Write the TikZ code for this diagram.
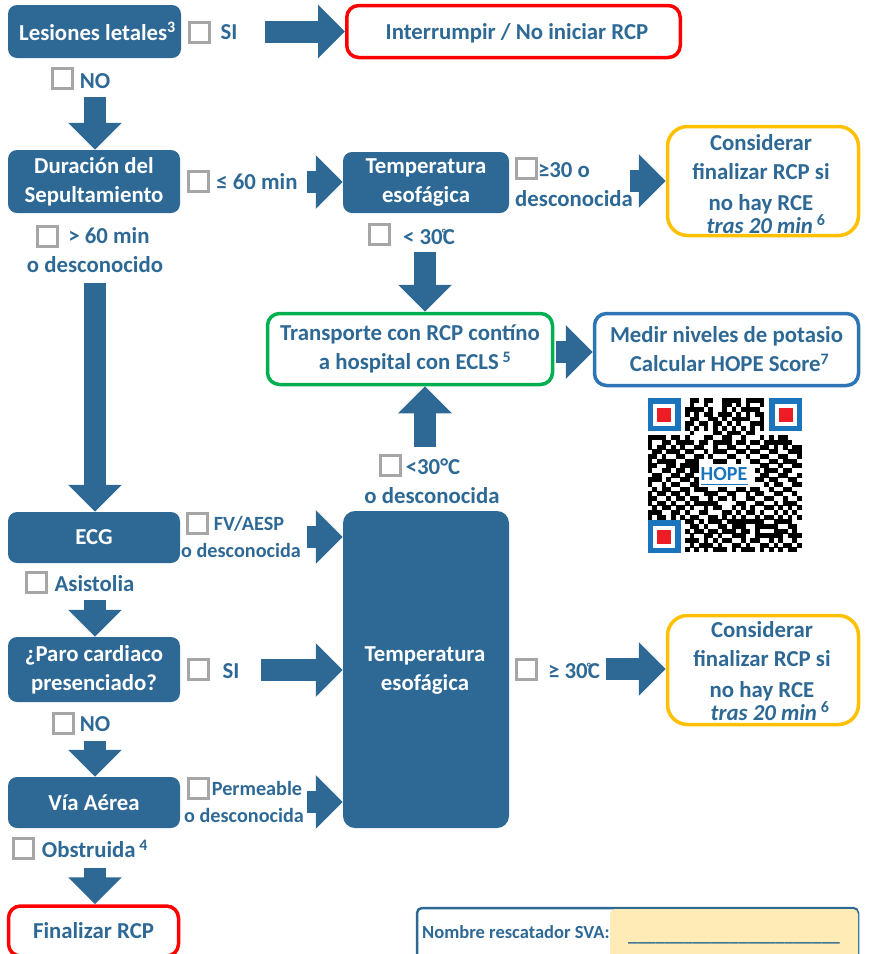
\documentclass[tikz,border=0pt]{standalone}
\usepackage{fontspec}
\setmainfont{Carlito}
\usetikzlibrary{arrows.meta}
\definecolor{flow_blue}{HTML}{2E6995}
\definecolor{check_gray}{HTML}{A6A6A6}
\definecolor{stop_red}{HTML}{FF0000}
\definecolor{go_green}{HTML}{00B050}
\definecolor{warn_yellow}{HTML}{FFC000}
\definecolor{info_blue}{HTML}{2E75B6}
\definecolor{qr_blue}{HTML}{1B75BC}
\definecolor{qr_red}{HTML}{EE1C25}
\definecolor{name_cream}{HTML}{FFEBB5}
\newcommand{\degc}{\rlap{\kern-1pt\raisebox{7pt}{\fontsize{12}{12}\selectfont °}}C}

\begin{document}
\begin{tikzpicture}[x=1pt,y=-1pt,
base_text/.style={font=\bfseries\fontsize{22.8}{29}\selectfont, align=center, inner sep=0pt},
solid_box/.style={base_text, rectangle, rounded corners=9pt, fill=flow_blue, text=white},
outline_box/.style={base_text, rectangle, rounded corners=12pt, draw=#1, fill=white, line width=3.5pt, text=flow_blue},
check_box/.style={rectangle, draw=check_gray, fill=white, line width=3pt, minimum size=20pt, inner sep=0pt},
answer_text/.style={base_text, text=flow_blue},
small_text/.style={answer_text, font=\bfseries\fontsize{20.2}{27}\selectfont},
fat_arrow/.style={draw=flow_blue, line width=22pt, -{Triangle[length=27pt,width=52pt,fill=flow_blue]}}
]
\useasboundingbox (0,0) rectangle (870,954);

% left column
\node[solid_box, minimum width=173pt, minimum height=53pt](lesiones) at (94.5,31.5) {\hspace*{6pt}Lesiones letales\textsuperscript{3}};
\node[solid_box, minimum width=172pt, minimum height=63pt](duracion) at (94,181.5) {Duración del\\Sepultamiento};
\node[solid_box, minimum width=172pt, minimum height=51pt](ecg) at (94,537.5) {\raisebox{-2pt}{ECG}};
\node[solid_box, minimum width=172pt, minimum height=65pt](paro) at (94,669.5) {¿Paro cardiaco\\presenciado?};
\node[solid_box, minimum width=172pt, minimum height=51pt](via_aerea) at (94,802.5) {Vía Aérea};
\node[outline_box=stop_red, minimum width=170pt, minimum height=50pt](finalizar) at (93.5,931) {Finalizar RCP};

% middle column
\node[outline_box=stop_red, minimum width=333.5pt, minimum height=52pt](interrumpir) at (513.5,31.5) {};
\node[answer_text](interrumpir_text) at (517,33) {Interrumpir / No iniciar RCP};
\node[solid_box, minimum width=166pt, minimum height=61pt](temp_top) at (426,182.5) {Temperatura\\esofágica};
\node[outline_box=go_green, minimum width=285pt, minimum height=71pt](transporte) at (410,349) {Transporte con RCP contíno\\\hspace*{10pt}a hospital con ECLS\,\textsuperscript{5}};
\node[solid_box, rounded corners=12pt, minimum width=166pt, minimum height=317pt](temp_big) at (426,669.5) {};
\node[base_text, text=white](temp_big_text) at (425,671) {Temperatura\\esofágica};

% right column
\node[outline_box=warn_yellow, rounded corners=20pt, minimum width=191pt, minimum height=109pt](considerar_top) at (763,181) {};
\node[answer_text](considerar_top_text) at (761,184) {Considerar\\finalizar RCP si\\[2pt]no hay RCE\\[-6pt]\hspace*{10pt}\textit{tras 20 min}\,\textsuperscript{6}};
\node[outline_box=warn_yellow, rounded corners=20pt, minimum width=191pt, minimum height=109pt](considerar_low) at (763,670) {};
\node[answer_text](considerar_low_text) at (762,671) {Considerar\\finalizar RCP si\\[2pt]no hay RCE\\[-6pt]\hspace*{16pt}\textit{tras 20 min}\,\textsuperscript{6}};
\node[outline_box=info_blue, minimum width=264pt, minimum height=72pt](medir) at (726.5,349.5) {Medir niveles de potasio\\\hspace*{6pt}Calcular HOPE Score\textsuperscript{7}};

% checks and their answers
\node[check_box](check_si) at (199.5,32.5) {};
\node[answer_text](si_text) at (229,32) {SI};
\node[check_box](check_no) at (62.5,78.5) {};
\node[answer_text](no_text) at (95,81) {NO};
\node[check_box](check_menos) at (198.5,181.5) {};
\node[answer_text](menos_text) at (257,182) {≤ 60 min};
\node[check_box](check_mas) at (47.5,236.5) {};
\node[answer_text](mas_text) at (95,250) {\hspace*{28pt}> 60 min\\o desconocido};
\node[check_box](check_sobre) at (526.5,168.5) {};
\node[answer_text](sobre_text) at (574,185) {\hspace*{-20pt}≥30 o\\desconocida};
\node[check_box](check_bajo) at (379.5,234.5) {};
\node[answer_text](bajo_text) at (429,237) {< 30\degc};
\node[check_box](check_bajo_low) at (390.5,465.5) {};
\node[answer_text](bajo_low_text) at (433,467) {<30°C};
\node[answer_text](bajo_low_more) at (432,496) {o desconocida};
\node[check_box](check_fv) at (197.5,523.5) {};
\node[small_text](fv_text) at (249,524) {FV/AESP};
\node[small_text](fv_more) at (241,550) {o desconocida};
\node[check_box](check_asistolia) at (36.5,582.5) {};
\node[answer_text](asistolia_text) at (94.5,584) {Asistolia};
\node[check_box](check_paro) at (198.5,669.5) {};
\node[answer_text](paro_text) at (231,671) {SI};
\node[check_box](check_no_low) at (63.5,723.5) {};
\node[answer_text](no_low_text) at (95,724) {NO};
\node[check_box](check_via) at (198.5,788.5) {};
\node[small_text](via_text) at (257,788) {Permeable};
\node[small_text](via_more) at (244,815) {o desconocida};
\node[check_box](check_obstruida) at (23.5,848.5) {};
\node[answer_text](obstruida_text) at (95,849) {Obstruida\,\textsuperscript{4}};
\node[check_box](check_high) at (526.5,669.5) {};
\node[answer_text](high_text) at (574,671) {≥ 30\degc};

% block arrows
\coordinate (si_start) at (265,31.5);
\coordinate (no_start) at (95,97);
\coordinate (menos_start) at (307,182);
\coordinate (sobre_start) at (630,181);
\coordinate (mas_start) at (95,283);
\coordinate (bajo_start) at (425,252);
\coordinate (potasio_start) at (556,352);
\coordinate (bajo_low_start) at (425,447);
\coordinate (fv_start) at (307,537);
\coordinate (asistolia_start) at (95,600);
\coordinate (paro_start) at (261,670);
\coordinate (no_low_start) at (95,741);
\coordinate (via_start) at (307,802);
\coordinate (obstruida_start) at (95,868);
\coordinate (high_start) at (606,669);

\draw[fat_arrow](si_start) -- (si_start -| interrumpir.west);
\draw[fat_arrow](no_start) -- (no_start |- duracion.north);
\draw[fat_arrow](menos_start) -- (menos_start -| temp_top.west);
\draw[fat_arrow](sobre_start) -- (sobre_start -| considerar_top.west);
\draw[fat_arrow](mas_start) -- (mas_start |- ecg.north);
\draw[fat_arrow](bajo_start) -- (bajo_start |- transporte.north);
\draw[fat_arrow](potasio_start) -- (potasio_start -| medir.west);
\draw[fat_arrow](bajo_low_start) -- (bajo_low_start |- transporte.south);
\draw[fat_arrow](fv_start) -- (fv_start -| temp_big.west);
\draw[fat_arrow](asistolia_start) -- (asistolia_start |- paro.north);
\draw[fat_arrow](paro_start) -- (paro_start -| temp_big.west);
\draw[fat_arrow](no_low_start) -- (no_low_start |- via_aerea.north);
\draw[fat_arrow](via_start) -- (via_start -| temp_big.west);
\draw[fat_arrow](obstruida_start) -- (obstruida_start |- finalizar.north);
\draw[fat_arrow](high_start) -- (high_start -| considerar_low.west);

% name field
\node[rectangle, rounded corners=5pt, draw=flow_blue, fill=white, line width=2.5pt, minimum width=441pt, minimum height=70pt](nombre_box) at (637.5,943) {};
\node[rectangle, rounded corners=5pt, fill=name_cream, minimum width=248pt, minimum height=60pt](nombre_field) at (734,939) {};
\node[answer_text, font=\bfseries\fontsize{18.5}{20}\selectfont, anchor=west](nombre_text) at (422,932) {Nombre rescatador SVA:};
\node[answer_text, font=\bfseries\fontsize{18.5}{20}\selectfont](nombre_line) at (734,943) {\_\_\_\_\_\_\_\_\_\_\_\_\_\_\_\_\_\_\_\_\_\_\_};

% QR code
\foreach \row/\cols in {
0/{9,10,12,13,16,17,18,19,21,22,23,24},
1/{9,12,16,17,19,21,24},
2/{8,9,10,11,13,16,18,20,21,22,23},
3/{8,10,12,13,15,16,17,19,21,23,24},
4/{9,10,13,14,16,18,19,20,21,24},
5/{8,9,11,12,14,15,17,19,22,23,24},
6/{8,10,12,14,16,18,20,22,24},
7/{9,14,15,17,18,19,21,22},
8/{0,1,2,3,5,6,8,12,13,16,17,20,24,26,28,29},
9/{0,3,4,6,7,8,9,11,12,14,15,16,17,19,20,22,23,25,26,27,28,29,30},
10/{0,2,3,5,7,10,11,14,17,18,21,24,25,27,29,31,32},
11/{1,2,4,5,6,8,9,12,14,15,16,19,20,22,23,26,27,30,31,32},
12/{0,1,3,6,7,10,11,13,17,18,21,24,25,28,29,32},
13/{0,2,3,4,5,8,9,10,14,15,16,19,22,23,26,27,29,30,31},
14/{0,1,4,5,7,8,9,10,24,25,28,31,32},
15/{0,3,4,6,7,9,10,23,25,26,27,29,30},
16/{1,2,5,6,8,9,24,25,28,29,32},
17/{0,1,2,4,7,8,10,23,24,26,27,30,31},
18/{0,3,5,6,9,10,25,27,28,31,32},
19/{1,3,4,7,8,10,11,12,15,16,19,20,22,23,26,29,30},
20/{0,2,3,5,6,8,12,13,14,17,18,21,23,24,27,28,31},
21/{0,1,4,6,7,9,10,13,15,16,18,21,22,25,26,29,32},
22/{0,2,3,5,8,10,11,12,13,14,19,20,23,24,27,29,30,31},
23/{1,3,4,6,7,9,12,14,15,18,20,22,25,26,28,30,32},
24/{0,1,2,5,6,8,11,12,16,17,19,21,22,24,27,29,31},
25/{0,2,3,5,7,9,10,13,14,16,18,20,23,25,26,28,30,32},
26/{8,9,11,13,14,15,17,18,19,20,21,22,23,24,27,28,29,30},
27/{9,10,12,15,16,18,19,20,23,24,25,26,27,30,31},
28/{8,10,11,13,14,16,17,18,20,21,23,27,28,29,31},
29/{9,12,13,15,18,19,20,23,24,25,26,27,28,30,31,32},
30/{8,9,10,12,14,16,17,20,22,23,26,28,31},
31/{9,11,12,13,15,18,19,21,24,25,27,29,30,32},
32/{8,10,12,14,15,16,18,20,21,22,24,26,28,30,31}}{
  \foreach \col in \cols {
    \fill[black] ({647.5+4.67*\col},{398+4.67*\row}) rectangle +(4.8,4.8);
  }
}
\foreach \fx/\fy in {647.5/398,769.3/398,647.5/520}{
  \draw[qr_blue, line width=5.5pt] (\fx+2.75,\fy+2.75) rectangle +(27.5,27.5);
  \fill[qr_red] (\fx+9.5,\fy+9.5) rectangle +(14,14);
}
\node[font=\bfseries\fontsize{20}{20}\selectfont, text=qr_blue, inner sep=0pt](qr_logo) at (724,474) {HOPE};
\draw[qr_blue, line width=0.8pt] (701,484) -- (748,484);

\end{tikzpicture}
\end{document}
